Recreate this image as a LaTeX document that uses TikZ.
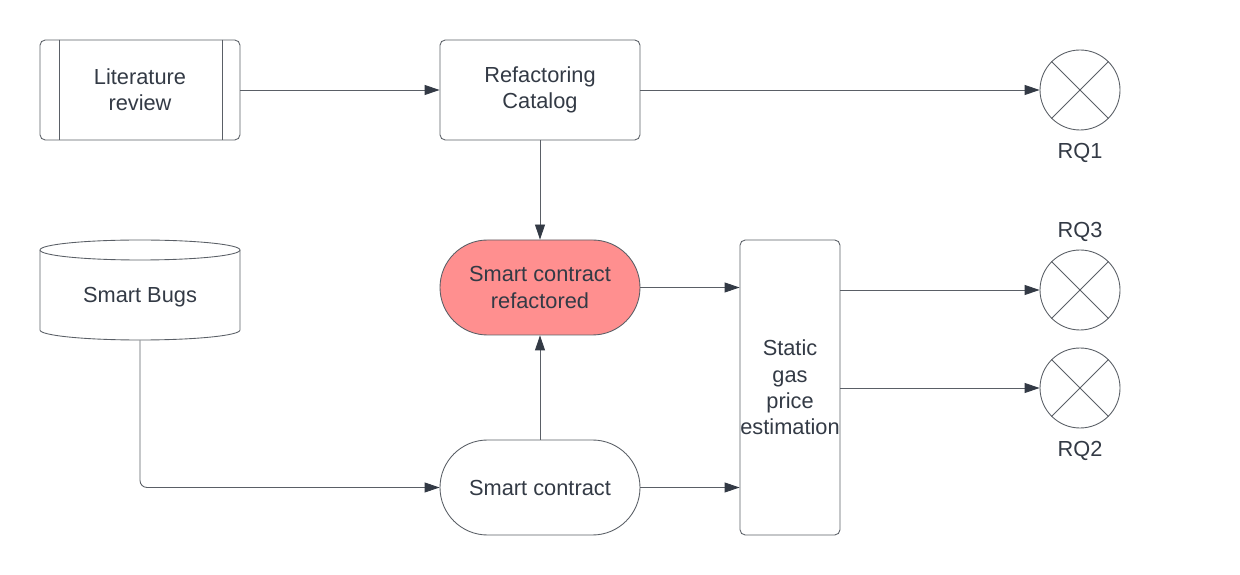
\documentclass[tikz,border=0pt]{standalone}
\usepackage{fontspec}
\setmainfont{Liberation Sans}
\usetikzlibrary{arrows.meta}
\definecolor{lineclr}{HTML}{5A5F66}
\definecolor{txtclr}{HTML}{333A45}
\definecolor{redfill}{HTML}{FF8F8F}
\tikzset{
  box/.style={draw=lineclr, rounded corners=3pt, minimum width=4cm, minimum height=2cm,
    align=center, text=txtclr, font=\fontsize{12.4}{15}\selectfont},
  pill/.style={draw=lineclr, rounded corners=0.95cm, minimum width=4cm, minimum height=1.9cm,
    align=center, text=txtclr, font=\fontsize{12.4}{15}\selectfont},
  rq/.style={draw=lineclr, circle, minimum size=1.6cm, inner sep=0pt},
  rqlabel/.style={text=txtclr, font=\fontsize{12.4}{15}\selectfont},
  flow/.style={draw=lineclr, -{Triangle[length=3mm,width=2mm,color=txtclr]}}
}
\begin{document}
\begin{tikzpicture}[line width=0.5pt]
  \useasboundingbox (0,0) rectangle (24.8,-11.5);
  % top row
  \node[box] (lit) at (2.8,-1.8) {Literature\\review};
  \draw[lineclr] ([xshift=0.4cm]lit.north west) -- ([xshift=0.4cm]lit.south west);
  \draw[lineclr] ([xshift=-0.36cm]lit.north east) -- ([xshift=-0.36cm]lit.south east);
  \node[box] (cat) at (10.8,-1.8) {Refactoring\\Catalog};
  \node[rq, label={[rqlabel, label distance=4pt]below:RQ1}] (rq1) at (21.6,-1.8) {};
  % database
  \node[minimum width=4cm, minimum height=1.72cm, inner sep=0pt, text=txtclr,
    font=\fontsize{12.4}{15}\selectfont] (bugs) at (2.8,-5.94) {Smart Bugs};
  \draw[lineclr] (0.8,-5.0) -- (0.8,-6.6) arc[start angle=180, end angle=360, x radius=2cm, y radius=0.2cm]
    -- (4.8,-5.0);
  \draw[lineclr] (2.8,-5.0) ellipse[x radius=2cm, y radius=0.2cm];
  % middle
  \node[pill, fill=redfill] (ref) at (10.8,-5.75) {Smart contract\\refactored};
  \node[pill] (sc) at (10.8,-9.75) {Smart contract};
  \node[box, minimum width=2cm, minimum height=5.9cm, inner xsep=0pt] (stat) at (15.8,-7.75)
    {Static\\gas\\price\\estimation};
  \node[rq, label={[rqlabel, label distance=1pt]above:RQ3}] (rq3) at (21.6,-5.8) {};
  \node[rq, label={[rqlabel, label distance=4pt]below:RQ2}] (rq2) at (21.6,-7.76) {};
  \foreach \q in {rq1,rq2,rq3}{
    \draw[lineclr] (\q.45) -- (\q.225);
    \draw[lineclr] (\q.135) -- (\q.315);
  }
  % connectors
  \draw[flow] (lit) -- (cat);
  \draw[flow] (cat) -- (rq1);
  \draw[flow] (cat) -- (ref);
  \draw[flow] (sc) -- (ref);
  \draw[flow, rounded corners=4pt] (bugs.south) |- (sc.west);
  \draw[flow] (ref.east) -- (ref.east -| stat.west);
  \draw[flow] (sc.east) -- (sc.east -| stat.west);
  \draw[flow] (stat.east |- rq3.west) -- (rq3.west);
  \draw[flow] (stat.east |- rq2.west) -- (rq2.west);
\end{tikzpicture}
\end{document}
